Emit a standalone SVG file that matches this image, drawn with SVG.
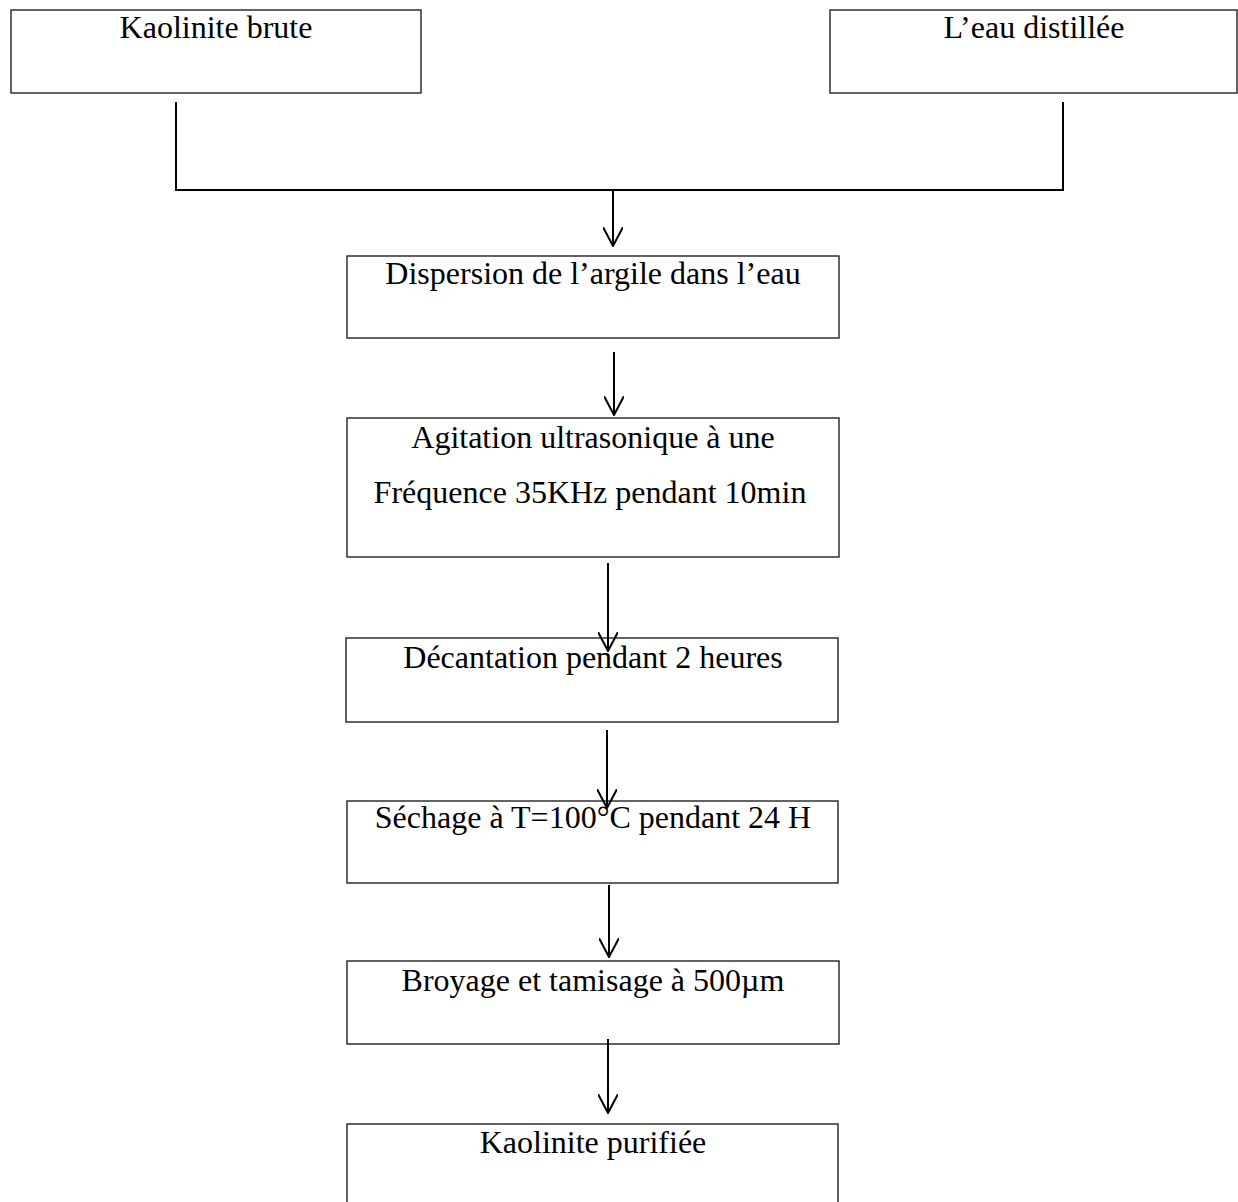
<svg xmlns="http://www.w3.org/2000/svg" width="1238" height="1202" viewBox="0 0 1238 1202">
<style>
.box{fill:#fff;stroke:#222;stroke-width:1.4}
.t{font-family:"Liberation Serif","Times New Roman",serif;font-size:32px;fill:#000;text-anchor:middle}
.c{fill:none;stroke:#000;stroke-width:2}
</style>
<defs>
<marker id="v" viewBox="0 0 20 20" refX="19" refY="10" markerWidth="20" markerHeight="20" markerUnits="userSpaceOnUse" orient="auto">
<path d="M0,0 L19,10 L0,20" fill="none" stroke="#000" stroke-width="2"/>
</marker>
</defs>
<rect width="1238" height="1202" fill="#fff"/>
<g id="n1"><rect class="box" x="11" y="10" width="410" height="83"/><text class="t" x="216" y="38">Kaolinite brute</text></g>
<g id="n2"><rect class="box" x="830" y="10" width="407" height="83"/><text class="t" x="1034" y="38">L’eau distillée</text></g>
<g id="n3"><rect class="box" x="347" y="256" width="492" height="82"/><text class="t" x="593" y="284">Dispersion de l’argile dans l’eau</text></g>
<g id="n4"><rect class="box" x="347" y="418" width="492" height="139"/><text class="t" x="593" y="448">Agitation ultrasonique à une</text><text class="t" x="590" y="503">Fréquence 35KHz pendant 10min</text></g>
<g id="n5"><rect class="box" x="346" y="638" width="492" height="84"/><text class="t" x="593" y="668">Décantation pendant 2 heures</text></g>
<g id="n6"><rect class="box" x="347" y="801" width="491" height="82"/><text class="t" x="593" y="828">Séchage à T=100°C pendant 24 H</text></g>
<g id="n7"><rect class="box" x="347" y="961" width="492" height="83"/><text class="t" x="593" y="991">Broyage et tamisage à 500µm</text></g>
<g id="n8"><rect class="box" x="347" y="1124" width="491" height="90"/><text class="t" x="593" y="1153">Kaolinite purifiée</text></g>
<g id="connectors">
<path class="c" d="M176,102 V190 H1063 V102"/>
<path class="c" d="M613,190 V246" marker-end="url(#v)"/>
<path class="c" d="M614,352 V415" marker-end="url(#v)"/>
<path class="c" d="M608,563 V651" marker-end="url(#v)"/>
<path class="c" d="M607,730 V808" marker-end="url(#v)"/>
<path class="c" d="M609,885 V957" marker-end="url(#v)"/>
<path class="c" d="M608,1039 V1113" marker-end="url(#v)"/>
</g>
</svg>
